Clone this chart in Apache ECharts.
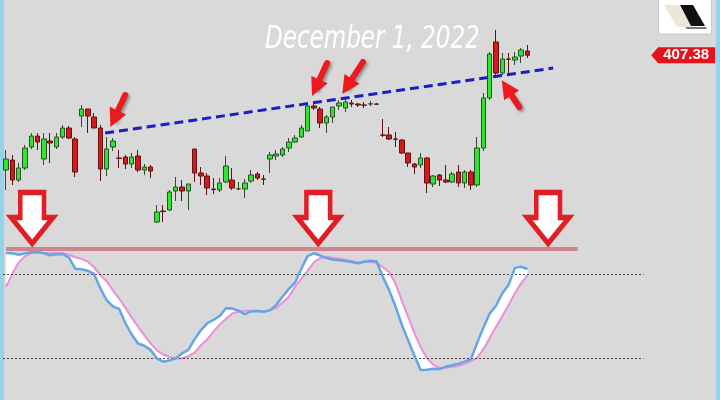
<!DOCTYPE html>
<html><head><meta charset="utf-8">
<script src="https://cdn.jsdelivr.net/npm/echarts@6/dist/echarts.min.js"></script>
<style>html,body{margin:0;padding:0;background:#d9d9d9}#c{width:720px;height:400px}</style>
</head><body><div id="c"></div>
<script>
// ---- candle data (price) ----
const openP = [350,355,345,351,361.5,367,355.5,364.5,361.5,366.5,
371,365.5,377,380.5,376.5,371,350.5,361.5,356,356.5,
353,357,350,351.5,324,329.5,330,339.5,341.5,339.5,
360.5,348.5,347,340.5,340,344,345,340.5,340.5,344.5,
348,345.5,355.5,357,357.5,361,364,366.5,369.5,382,
380.5,373.5,376.5,382,381,383.5,383,382.5,383,383,
367.5,367.5,365.5,365,358.5,353,352.5,356,343,347.5,
345,344,349,343.5,349,342.5,361,386,414,398.5,
405.5,405,407,409.5];
const closeP = [355.5,345,351,361,367,364,365.5,363.5,366.5,371,
366,349,380.5,377,371,350.5,360.5,364.5,355.8,353,
356.5,350,351.5,349.5,329,329.2,339,341.5,339.5,343,
348.5,347,341,340.2,343.5,352,341,340.6,343.5,347.5,
346,345.4,357.5,358,360.5,364,366,371,382,381,
373.5,376.5,381.5,383.5,384,383,382.5,382.4,383.1,382.9,
367.4,365.5,365.4,358.5,353.5,351.5,356,343.5,347,345,
344,348,343.5,349,342.5,361,386,408,398.5,405.5,
405.4,406.5,410,407.38];
const lowP = [340,342.5,344,350,360.5,360,352.5,353.5,360.5,365.5,
365.5,346.5,371.5,368.5,371,344.5,347,359.5,351,350.5,
351,349,347.5,346,323.5,324,329.5,334.5,334.5,330,
344,342.5,337.5,338,339,343.5,340,340,336,343.5,
345,342.5,348.5,355,356.5,359,363.5,366,369.5,380,
371,368.5,373.5,380,379,381.5,381.5,381,382,382.5,
366.5,365,361.5,358,351.5,348,351,338.5,341.5,342,
343.5,343.5,341.5,341,340,341.5,359.5,385,396,397.5,
398.5,402.5,403.5,406];
const highP = [360,357.5,353.5,362.5,368.5,368.5,368.5,368.5,368.5,372.5,
372,366.5,382.5,380.5,378.5,372.5,366.5,366,360,357.5,
358.5,360,353,352.5,332.5,332.5,340,346.5,345,343,
360.5,351.5,348.5,346,346,357,351,344,345.5,350,
349,347.5,359,360,361.5,366,367.5,372.5,382.5,383.5,
381.5,377.5,381.5,385,386,385,383.5,384,384.5,383.5,
375.5,371.5,369,365.5,358.5,353.5,358.5,356.5,347.5,348,
352.5,349,352.5,350,350,366.5,388.5,409,420,408.5,
408.5,409,411,412.5];
// ---- stochastic %K and %D ----
const stochK = [95.3,95,94,95,95.8,96,95,93.6,94.3,94.5,
92,84,83.6,82.5,80.3,70,61.5,57,55.3,45,
37,30.6,29,26,20,17.6,18.5,20,23.5,26,
33.5,40,45,47.4,50.2,55.8,55.5,54,51.6,53.5,
53.8,53.3,54.3,58,64,69.5,74,84,93,95,
93.4,91.6,90.5,90,89.5,88.7,87.9,89,89.6,89.2,
78,68.5,57,44,33,22,11.6,11.8,12.6,12.3,
14,15,16,17.6,19.2,31,42,52,57.5,66.4,
72.4,84.6,85.4,83.8];
const stochD = [71,80.5,88.5,93,95,95.4,95.3,95,95,95,
94,92.2,91,89,85,79.4,75,68.5,62.5,56,
49,42.5,36.5,30.7,25.6,22.7,21,19.8,20,21.5,
24,29.3,33.5,39,44,48,52,53.4,54,54,
54,53.5,54.5,56,59.8,64,71,77,82.5,88.5,
91.5,92.6,91.6,91.2,90.4,89.5,88.3,88.8,88.8,88.2,
85,81.5,73.5,61,49.7,38,28,20,15.5,13,
13.3,14,14.5,16,18,20.5,26.5,34.5,42.5,50,
58,66.5,73.5,79.4];
const stochLevels = [20, 80];
const signalLevel = 98;
const lastPrice = 407.38;
const titleText = 'December 1, 2022';
// annotation anchors [candle index, price]
const trendLine = [[15.76, 368.5], [87.1, 401]];
const pointerArrows = [
  [[18.95, 387.5], [17.2, 375.6]],
  [[51.1, 403.5], [49.3, 391.1]],
  [[56.8, 404], [54.3, 391.8]],
  [[81.7, 381.5], [79.7, 391.1]]
];
const downArrows = [[4.14, 326], [49.7, 326], [86.3, 326]];
const NCAT = 102;
const categories = [];
for (let i = 0; i < NCAT; i++) categories.push('b' + i);

const candleData = openP.map((o, i) => [o, closeP[i], lowP[i], highP[i]]);
const bandLow = stochK.map((k, i) => Math.min(k, stochD[i]));
const bandDiff = stochK.map((k, i) => Math.abs(k - stochD[i]));

const chart = echarts.init(document.getElementById('c'), null, {renderer: 'canvas'});
const gridL = 3, gridW = 640.6;
chart.setOption({
  backgroundColor: '#d9d9d9',
  animation: false,
  grid: [
    {left: gridL, top: 0, width: gridW, height: 240},
    {left: gridL, top: 246.3, width: gridW, height: 140}
  ],
  xAxis: [
    {type: 'category', gridIndex: 0, data: categories, show: false, boundaryGap: true},
    {type: 'value', gridIndex: 0, min: -0.5, max: NCAT - 0.5, show: false},
    {type: 'category', gridIndex: 1, data: categories, show: false, boundaryGap: true}
  ],
  yAxis: [
    {type: 'value', gridIndex: 0, min: 315, max: 435, show: false, splitLine: {show: false}},
    {type: 'value', gridIndex: 1, min: 0, max: 100, show: false, splitLine: {show: false}}
  ],
  series: [
    {
      type: 'candlestick', xAxisIndex: 0, yAxisIndex: 0, data: candleData, barWidth: 5,
      itemStyle: {color: '#2ee62e', color0: '#d8181b', borderColor: '#2a4f2a', borderColor0: '#5e1212', borderWidth: 1}
    },
    {
      type: 'line', xAxisIndex: 1, yAxisIndex: 0, data: trendLine, symbol: 'none',
      lineStyle: {color: '#1c1cc8', width: 3, type: [9, 5]}, z: 5
    },
    {
      type: 'scatter', xAxisIndex: 1, yAxisIndex: 0, data: downArrows, clip: false,
      symbol: 'path://M10,0 L36,0 L36,27 L46,27 L23,55 L0,27 L10,27 Z',
      symbolSize: [42, 51],
      itemStyle: {color: '#ffffff', borderColor: '#e11d25', borderWidth: 5, opacity: 1},
      z: 6,
      markLine: {
        silent: true, symbol: ['none', 'triangle'], symbolSize: [18, 18],
        lineStyle: {color: '#ea1a1f', width: 6, type: 'solid', cap: 'round', opacity: 1,
          shadowColor: 'rgba(0,0,0,0.35)', shadowBlur: 3, shadowOffsetX: 2, shadowOffsetY: 2},
        itemStyle: {color: '#ea1a1f', opacity: 1},
        label: {show: false},
        data: pointerArrows.map(a => [{coord: a[0]}, {coord: a[1]}])
      }
    },
    {
      type: 'scatter', xAxisIndex: 1, yAxisIndex: 0, data: [[107.8, lastPrice]], clip: false,
      symbol: 'path://M0,8 L7,0 L64,0 L64,16 L7,16 Z', symbolSize: [64, 16],
      itemStyle: {color: '#e3131b', opacity: 1},
      label: {show: true, position: 'inside', offset: [3, 0], formatter: '407.38',
        color: '#ffffff', fontWeight: 'bold', fontSize: 15, fontFamily: 'Liberation Sans, Arial, sans-serif'},
      z: 7
    },
    {
      type: 'line', xAxisIndex: 2, yAxisIndex: 1, data: bandLow, stack: 'band', symbol: 'none',
      lineStyle: {opacity: 0, width: 0}, silent: true,
      markLine: {
        silent: true, symbol: 'none', label: {show: false},
        lineStyle: {color: '#444', width: 1, type: [2, 2]},
        data: stochLevels.map(v => ({yAxis: v}))
      }
    },
    {
      type: 'line', xAxisIndex: 2, yAxisIndex: 1, data: bandDiff, stack: 'band', symbol: 'none',
      lineStyle: {opacity: 0, width: 0}, areaStyle: {color: '#ffffff', opacity: 1}, silent: true,
      markLine: {
        silent: true, symbol: 'none', label: {show: false},
        lineStyle: {color: '#d3838b', width: 4, type: 'solid', opacity: 1},
        data: [[{coord: [0, signalLevel]}, {coord: [91, signalLevel]}]]
      }
    },
    {
      type: 'line', xAxisIndex: 2, yAxisIndex: 1, data: stochD, symbol: 'none',
      lineStyle: {color: '#ee8cdc', width: 2}, z: 4
    },
    {
      type: 'line', xAxisIndex: 2, yAxisIndex: 1, data: stochK, symbol: 'none',
      lineStyle: {color: '#62a6e6', width: 2.5}, z: 5
    }
  ],
  graphic: [
    {type: 'rect', shape: {x: 0, y: 0, width: 4, height: 400}, style: {fill: '#93d4ea'}},
    {type: 'rect', shape: {x: 716, y: 0, width: 4, height: 400}, style: {fill: '#93d4ea'}},
    {type: 'rect', shape: {x: 658.5, y: -1, width: 53, height: 35}, style: {fill: '#ffffff', stroke: '#c8c8c8', lineWidth: 1}},
    {type: 'polygon', shape: {points: [[685, 27], [706, 27], [707, 29], [687, 29]]}, style: {fill: '#777'}},
    {type: 'polygon', shape: {points: [[664, 5], [679, 5], [692, 27], [677, 27]]}, style: {fill: '#ede7d8'}},
    {type: 'polygon', shape: {points: [[680, 5], [693, 5], [705, 26], [691, 26]]}, style: {fill: '#111111'}},
    {
      type: 'text', x: 265, y: 24, scaleX: 0.72, z: 10,
      style: {
        text: titleText, fill: '#ffffff', fontSize: 32, fontStyle: 'italic', fontWeight: 'lighter',
        fontFamily: "'DejaVu Sans', sans-serif",
        shadowColor: 'rgba(0,0,0,0.35)', shadowBlur: 2, shadowOffsetX: 1, shadowOffsetY: 1
      }
    }
  ]
});
</script></body></html>
